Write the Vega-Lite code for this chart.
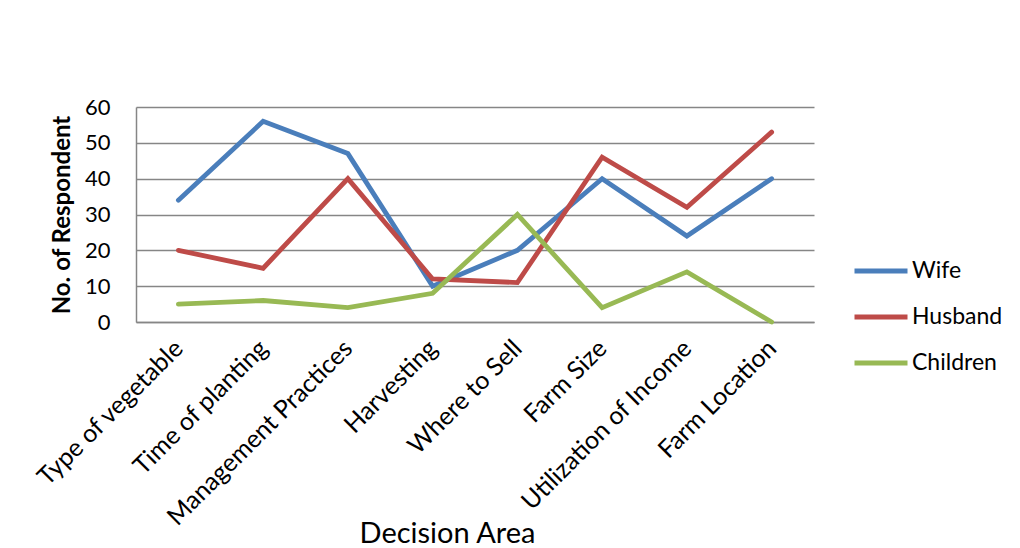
{
  "$schema": "https://vega.github.io/schema/vega-lite/v6.json",
  "width": 678,
  "height": 215,
  "autosize": "none",
  "padding": {"left": 136, "top": 107, "right": 206, "bottom": 226},
  "background": "white",
  "config": {
    "font": "Lato",
    "view": {"stroke": null}
  },
  "data": {
    "values": [
      {"area": "Type of vegetable", "who": "Wife", "n": 34},
      {"area": "Time of planting", "who": "Wife", "n": 56},
      {"area": "Management Practices", "who": "Wife", "n": 47},
      {"area": "Harvesting", "who": "Wife", "n": 10},
      {"area": "Where to Sell", "who": "Wife", "n": 20},
      {"area": "Farm Size", "who": "Wife", "n": 40},
      {"area": "Utilization of Income", "who": "Wife", "n": 24},
      {"area": "Farm Location", "who": "Wife", "n": 40},
      {"area": "Type of vegetable", "who": "Husband", "n": 20},
      {"area": "Time of planting", "who": "Husband", "n": 15},
      {"area": "Management Practices", "who": "Husband", "n": 40},
      {"area": "Harvesting", "who": "Husband", "n": 12},
      {"area": "Where to Sell", "who": "Husband", "n": 11},
      {"area": "Farm Size", "who": "Husband", "n": 46},
      {"area": "Utilization of Income", "who": "Husband", "n": 32},
      {"area": "Farm Location", "who": "Husband", "n": 53},
      {"area": "Type of vegetable", "who": "Children", "n": 5},
      {"area": "Time of planting", "who": "Children", "n": 6},
      {"area": "Management Practices", "who": "Children", "n": 4},
      {"area": "Harvesting", "who": "Children", "n": 8},
      {"area": "Where to Sell", "who": "Children", "n": 30},
      {"area": "Farm Size", "who": "Children", "n": 4},
      {"area": "Utilization of Income", "who": "Children", "n": 14},
      {"area": "Farm Location", "who": "Children", "n": 0}
    ]
  },
  "mark": {"type": "line", "strokeWidth": 4.8, "strokeCap": "round", "strokeJoin": "miter"},
  "encoding": {
    "x": {
      "field": "area",
      "type": "nominal",
      "sort": ["Type of vegetable", "Time of planting", "Management Practices", "Harvesting", "Where to Sell", "Farm Size", "Utilization of Income", "Farm Location"],
      "scale": {"type": "point", "padding": 0.5},
      "axis": {
        "title": "Decision Area",
        "titleFont": "Lato",
        "titleFontSize": 29,
        "titleFontWeight": "normal",
        "titleColor": "#000000",
        "titleX": 311,
        "titleY": 220,
        "titleBaseline": "alphabetic",
        "labelAngle": -45,
        "labelAlign": "right",
        "labelBaseline": "middle",
        "labelFontSize": 25,
        "labelLimit": 500,
        "labelOverlap": false,
        "labelColor": "#000000",
        "labelPadding": 22,
        "ticks": false,
        "domain": true,
        "domainColor": "#868686",
        "domainWidth": 1.5,
        "grid": false
      }
    },
    "y": {
      "field": "n",
      "type": "quantitative",
      "scale": {"domain": [0, 60], "nice": false},
      "axis": {
        "title": "No. of Respondent",
        "titleFontSize": 24,
        "titleFontWeight": "bold",
        "titleColor": "#000000",
        "titlePadding": 10,
        "values": [0, 10, 20, 30, 40, 50, 60],
        "labelFontSize": 22,
        "labelColor": "#000000",
        "labelPadding": 26,
        "ticks": false,
        "domainColor": "#868686",
        "domainWidth": 1.5,
        "grid": true,
        "gridColor": "#868686",
        "gridWidth": 1.5
      }
    },
    "color": {
      "field": "who",
      "type": "nominal",
      "sort": ["Wife", "Husband", "Children"],
      "scale": {"domain": ["Wife", "Husband", "Children"], "range": ["#4A7EBB", "#BE4B48", "#98B954"]},
      "legend": {
        "title": null,
        "orient": "none",
        "legendX": 716,
        "legendY": 135,
        "symbolType": "stroke",
        "symbolSize": 2809,
        "symbolStrokeWidth": 4.8,
        "labelFontSize": 23,
        "labelColor": "#000000",
        "labelOffset": 2,
        "rowPadding": 5
      }
    }
  }
}
